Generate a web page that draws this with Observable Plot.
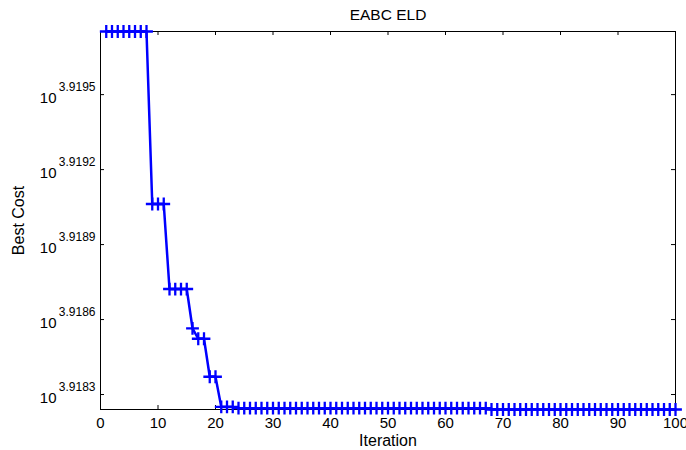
<!DOCTYPE html>
<html>
<head>
<meta charset="utf-8">
<script src="https://cdn.jsdelivr.net/npm/d3@7"></script>
<script src="https://cdn.jsdelivr.net/npm/@observablehq/plot@0.6"></script>
<style>
  html, body { margin: 0; padding: 0; background: #fff; }
  #chart svg { display: block; }
</style>
</head>
<body>
<div id="chart"></div>
<script>
// Iterations 1..100
const iterations = d3.range(1, 101);
// Best cost per iteration
const bestCost = [
  8312.90, 8312.90, 8312.90, 8312.90, 8312.90, 8312.90, 8312.90, 8312.90,
  8299.70, 8299.70, 8299.70,
  8293.20, 8293.20, 8293.20, 8293.20,
  8290.20,
  8289.40, 8289.40,
  8286.50, 8286.50,
  8284.20, 8284.20, 8284.20,
  8284.10, 8284.10, 8284.10, 8284.10, 8284.10, 8284.10, 8284.10, 8284.10, 8284.10, 8284.10,
  8284.10, 8284.10, 8284.10, 8284.10, 8284.10, 8284.10, 8284.10, 8284.10, 8284.10, 8284.10,
  8284.10, 8284.10, 8284.10, 8284.10, 8284.10, 8284.10, 8284.10, 8284.10, 8284.10, 8284.10,
  8284.10, 8284.10, 8284.10, 8284.10, 8284.10, 8284.10, 8284.10, 8284.10, 8284.10, 8284.10,
  8284.10, 8284.10, 8284.10, 8284.10,
  8284.00, 8284.00, 8284.00, 8284.00, 8284.00, 8284.00, 8284.00, 8284.00, 8284.00, 8284.00,
  8284.00, 8284.00, 8284.00, 8284.00, 8284.00, 8284.00, 8284.00, 8284.00, 8284.00, 8284.00,
  8284.00, 8284.00, 8284.00, 8284.00, 8284.00, 8284.00, 8284.00, 8284.00, 8284.00, 8284.00,
  8284.00, 8284.00, 8284.00
];
const xTicks = [0, 10, 20, 30, 40, 50, 60, 70, 80, 90, 100];
const yTickBase = "10";
const yTickExponents = ["3.9183", "3.9186", "3.9189", "3.9192", "3.9195"];
const titleText = "EABC ELD";
const xLabel = "Iteration";
const yLabel = "Best Cost";

const data = iterations.map((it, i) => ({iteration: it, cost: bestCost[i]}));
const yTicks = yTickExponents.map(e => Math.pow(10, +e));
const yDomain = d3.extent(bestCost);

const W = 686, H = 450;
const mL = 100, mR = 11, mT = 31, mB = 41;
const frameW = W - mL - mR, frameH = H - mT - mB;
const blue = "#0000ff";

const chart = Plot.plot({
  width: W,
  height: H,
  marginLeft: mL,
  marginRight: mR,
  marginTop: mT,
  marginBottom: mB,
  style: {fontFamily: "'Liberation Sans', Arial, Helvetica, sans-serif", color: "black", background: "white"},
  x: {domain: [0, 100]},
  y: {type: "log", domain: yDomain, axis: null},
  marks: [
    Plot.frame({stroke: "black", strokeWidth: 1}),
    // inward ticks (bottom/top)
    Plot.tickX(xTicks, {x: d => d, insetTop: frameH - 4, stroke: "black"}),
    Plot.tickX(xTicks, {x: d => d, insetBottom: frameH - 4, stroke: "black"}),
    // inward ticks (left/right)
    Plot.tickY(yTicks, {y: d => d, insetRight: frameW - 4, stroke: "black"}),
    Plot.tickY(yTicks, {y: d => d, insetLeft: frameW - 4, stroke: "black"}),
    Plot.axisX(xTicks, {tickSize: 0, tickPadding: 8, fontSize: 15, label: null}),
    // y tick labels: 10 with superscript exponent
    Plot.text(yTicks, {y: d => d, frameAnchor: "left", textAnchor: "end", dx: -44, dy: 4, fontSize: 15,
      text: () => yTickBase}),
    Plot.text(yTicks, {y: d => d, frameAnchor: "left", textAnchor: "end", dx: -5, dy: -7, fontSize: 12,
      text: (d, i) => yTickExponents[i]}),
    Plot.text([titleText], {frameAnchor: "top", lineAnchor: "middle", dy: -16, fontSize: 15.5, text: d => d}),
    Plot.text([xLabel], {frameAnchor: "bottom", lineAnchor: "bottom", dy: 36, fontSize: 16, text: d => d}),
    Plot.text([yLabel], {frameAnchor: "left", textAnchor: "middle", lineAnchor: "middle", dx: -82, rotate: -90, fontSize: 16, text: d => d}),
    Plot.line(data, {x: "iteration", y: "cost", stroke: blue, strokeWidth: 2.5}),
    Plot.dot(data, {x: "iteration", y: "cost", symbol: "plus", r: 4.2, stroke: blue, strokeWidth: 2.3})
  ]
});
document.getElementById("chart").appendChild(chart);
</script>
</body>
</html>
